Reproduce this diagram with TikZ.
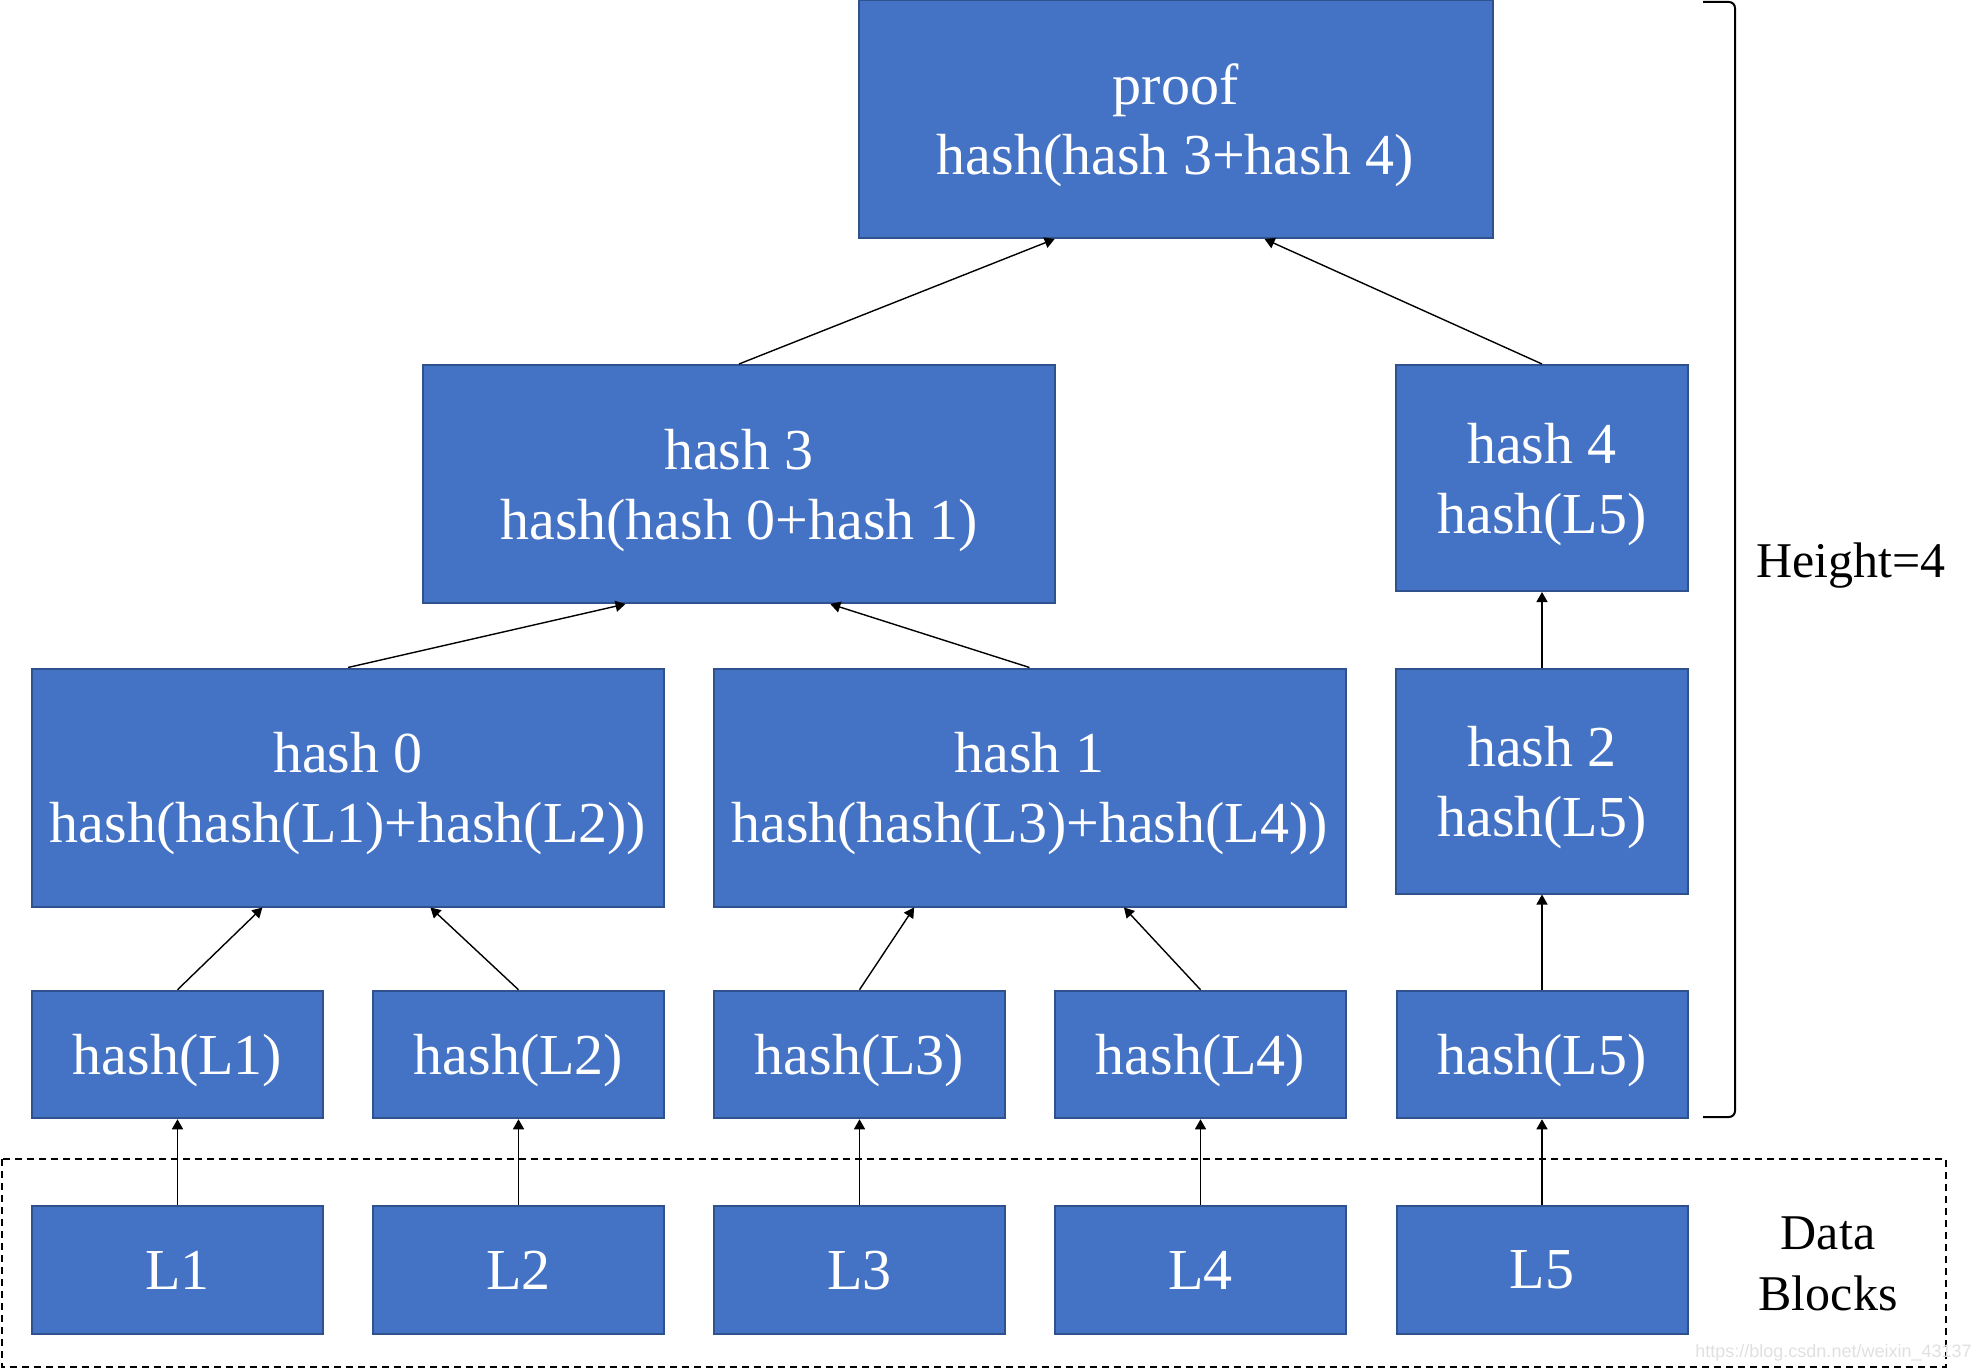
\documentclass[tikz,border=0pt]{standalone}
\usepackage{fontspec}
\setmainfont{Liberation Serif}
\newfontfamily\markfont{Liberation Sans}
\usepackage{xcolor}
\usetikzlibrary{positioning,calc,arrows.meta}
\definecolor{boxfill}{HTML}{4472C4}
\definecolor{boxline}{HTML}{2F528F}
\tikzset{
	blk/.style={draw=boxline, line width=1pt, fill=boxfill, text=white, align=center, inner sep=0pt, text depth=0pt, font=\fontsize{29pt}{35pt}\selectfont},
	wideblk/.style={blk, minimum width=316pt, minimum height=119pt},
	tallblk/.style={blk, minimum width=146pt, minimum height=112.5pt},
	leafblk/.style={blk, minimum width=145.5pt, minimum height=63.75pt},
	link/.style={-{Triangle[length=5pt,width=5.5pt]}, line width=0.7pt},
	sidetext/.style={align=center, inner sep=0pt, font=\fontsize{25pt}{30.5pt}\selectfont},
}

\begin{document}
\begin{tikzpicture}[x=0.5pt,y=-0.5pt]
			\useasboundingbox (0,0) rectangle (1976,1369);
			% tree of hashes
			\node[wideblk, minimum width=317pt] (proof) at (1175.5,119) {proof\\hash(hash 3+hash 4)};
			\node[wideblk] (hthree) at (739,484) {hash 3\\hash(hash 0+hash 1)};
			\node[tallblk, minimum height=113pt] (hfour) at (1542,478) {hash 4\\hash(L5)};
			\node[wideblk] (hzero) at (348,787.5) {hash 0\\hash(hash(L1)+hash(L2))};
			\node[wideblk] (hone) at (1029.5,787.5) {hash 1\\hash(hash(L3)+hash(L4))};
			\node[tallblk] (htwo) at (1542,781) {hash 2\\hash(L5)};
			\node[leafblk] (hlone) at (177.5,1054.5) {hash(L1)};
			\node[leafblk] (hltwo) at (518.5,1054.5) {hash(L2)};
			\node[leafblk] (hlthree) at (859.5,1054.5) {hash(L3)};
			\node[leafblk] (hlfour) at (1200.5,1054.5) {hash(L4)};
			\node[leafblk] (hlfive) at (1542,1054.5) {hash(L5)};
			% data blocks
			\node[leafblk, minimum height=64pt] (lone) at (177.5,1270) {L1};
			\node[leafblk, minimum height=64pt] (ltwo) at (518.5,1270) {L2};
			\node[leafblk, minimum height=64pt] (lthree) at (859.5,1270) {L3};
			\node[leafblk, minimum height=64pt] (lfour) at (1200.5,1270) {L4};
			\node[leafblk, minimum height=64pt] (lfive) at (1542,1270) {L5};
			\draw[line width=0.75pt, dash pattern=on 3.5pt off 2.5pt] (2,1159) rectangle (1946,1367);
			\node[sidetext] (data) at (1828,1264) {Data\\Blocks};
			% links
			\draw[link] (hthree.north) -- ($(proof.south west)!0.31!(proof.south east)$);
			\draw[link] (hfour.north) -- ($(proof.south west)!0.64!(proof.south east)$);
			\draw[link] (hzero.north) -- ($(hthree.south west)!0.321!(hthree.south east)$);
			\draw[link] (hone.north) -- ($(hthree.south west)!0.644!(hthree.south east)$);
			\draw[link] (htwo.north) -- (hfour.south);
			\draw[link] (hlone.north) -- ($(hzero.south west)!0.365!(hzero.south east)$);
			\draw[link] (hltwo.north) -- ($(hzero.south west)!0.63!(hzero.south east)$);
			\draw[link] (hlthree.north) -- ($(hone.south west)!0.318!(hone.south east)$);
			\draw[link] (hlfour.north) -- ($(hone.south west)!0.649!(hone.south east)$);
			\draw[link] (hlfive.north) -- (htwo.south);
			\draw[link] (lone.north) -- (hlone.south);
			\draw[link] (ltwo.north) -- (hltwo.south);
			\draw[link] (lthree.north) -- (hlthree.south);
			\draw[link] (lfour.north) -- (hlfour.south);
			\draw[link] (lfive.north) -- (hlfive.south);
			% height bracket
			\draw[line width=1pt, rounded corners=3pt] (1703,2) -- (1735,2) -- (1735,1117) -- (1703,1117);
			\node[sidetext, anchor=base] (height) at (1851,577) {Height=4};
			\node[anchor=base west, inner sep=0pt, text=black!12, font=\markfont\fontsize{9pt}{10pt}\selectfont] (mark) at (1695,1357) {https://blog.csdn.net/weixin\_43137};
		\end{tikzpicture}
\end{document}
